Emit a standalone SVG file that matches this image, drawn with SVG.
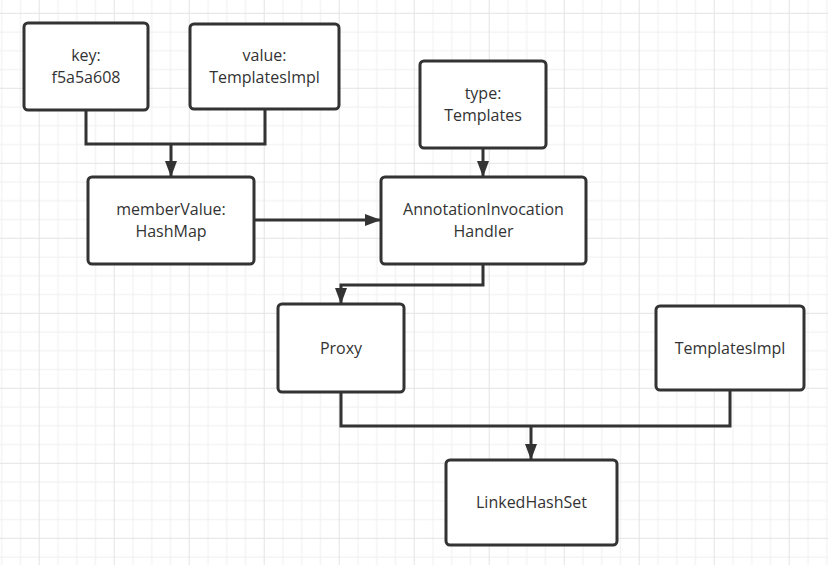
<svg xmlns="http://www.w3.org/2000/svg" width="828" height="565" viewBox="0 0 828 565">
<style>
.node rect{fill:#ffffff;stroke:#333333;stroke-width:3}
.node text{font-family:"Open Sans","Noto Sans","Liberation Sans",sans-serif;font-size:16px;fill:#333333;text-anchor:middle}
.conn path{fill:none;stroke:#333333;stroke-width:3}
</style>
<defs>
<pattern id="grid" patternUnits="userSpaceOnUse" x="38.7" y="12.8" width="75" height="75">
<rect x="18.75" y="0" width="1" height="75" fill="#efefef"/>
<rect x="37.5" y="0" width="1" height="75" fill="#efefef"/>
<rect x="56.25" y="0" width="1" height="75" fill="#efefef"/>
<rect x="0" y="18.75" width="75" height="1" fill="#efefef"/>
<rect x="0" y="37.5" width="75" height="1" fill="#efefef"/>
<rect x="0" y="56.25" width="75" height="1" fill="#efefef"/>
<rect x="0" y="0" width="1" height="75" fill="#e3e3e3"/>
<rect x="0" y="0" width="75" height="1" fill="#e3e3e3"/>
</pattern>
<marker id="arrow" viewBox="0 0 16 12" refX="15" refY="6" markerWidth="16" markerHeight="12" markerUnits="userSpaceOnUse" orient="auto">
<path d="M0,0 L16,6 L0,12 Z" fill="#333333"/>
</marker>
</defs>
<rect x="0" y="0" width="828" height="565" fill="#ffffff"/>
<rect x="0" y="0" width="828" height="565" fill="url(#grid)"/>
<g class="conn" id="connectors">
<path d="M86,110 V144 H265 V109"/>
<path d="M171,144 V176" marker-end="url(#arrow)"/>
<path d="M483,148 V176" marker-end="url(#arrow)"/>
<path d="M254,220 H380" marker-end="url(#arrow)"/>
<path d="M483,264 V285 H341 V303" marker-end="url(#arrow)"/>
<path d="M341,392 V426 H730 V390"/>
<path d="M531,426 V459" marker-end="url(#arrow)"/>
</g>
<g class="node" id="key">
<rect x="24" y="23" width="124" height="87" rx="4"/>
<text x="86" y="61">key:</text>
<text x="86" y="83">f5a5a608</text>
</g>
<g class="node" id="value">
<rect x="190" y="24" width="149" height="85" rx="4"/>
<text x="264.5" y="61">value:</text>
<text x="264.5" y="83">TemplatesImpl</text>
</g>
<g class="node" id="type">
<rect x="420" y="61" width="126" height="87" rx="4"/>
<text x="483" y="99">type:</text>
<text x="483" y="121">Templates</text>
</g>
<g class="node" id="memberValue">
<rect x="88" y="177" width="166" height="87" rx="4"/>
<text x="171" y="215">memberValue:</text>
<text x="171" y="237">HashMap</text>
</g>
<g class="node" id="handler">
<rect x="381" y="177" width="205" height="87" rx="4"/>
<text x="483.5" y="215">AnnotationInvocation</text>
<text x="483.5" y="237">Handler</text>
</g>
<g class="node" id="proxy">
<rect x="278" y="304" width="126" height="88" rx="4"/>
<text x="341" y="354">Proxy</text>
</g>
<g class="node" id="templatesImpl">
<rect x="656" y="306" width="148" height="84" rx="4"/>
<text x="730" y="354">TemplatesImpl</text>
</g>
<g class="node" id="linkedHashSet">
<rect x="446" y="460" width="171" height="85" rx="4"/>
<text x="531.5" y="508">LinkedHashSet</text>
</g>
</svg>
